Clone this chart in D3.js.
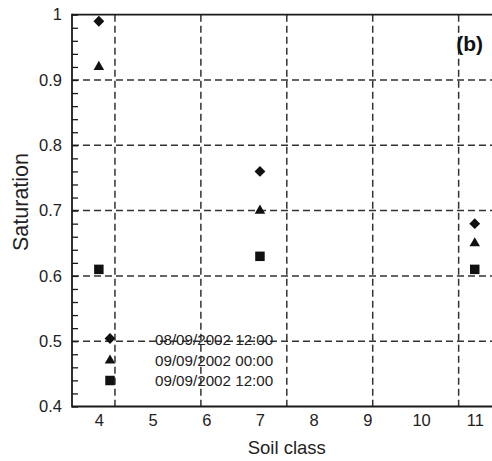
<!DOCTYPE html>
<html>
<head>
<meta charset="utf-8">
<script src="https://cdn.jsdelivr.net/npm/d3@7"></script>
<style>
  html, body { margin: 0; padding: 0; background: #fff; }
  svg { display: block; font-family: "Liberation Sans", Arial, sans-serif; }
</style>
</head>
<body>
<svg id="chart" width="492" height="461"></svg>
<script>
// Soil classes and saturation at three times
const soilClasses = [4, 7, 11];
const sat0812 = [0.99, 0.76, 0.68];   // 08/09/2002 12:00
const sat0900 = [0.92, 0.70, 0.65];   // 09/09/2002 00:00
const sat0912 = [0.61, 0.63, 0.61];   // 09/09/2002 12:00
const seriesNames = ["08/09/2002 12:00", "09/09/2002 00:00", "09/09/2002 12:00"];
const xTickValues = [4, 5, 6, 7, 8, 9, 10, 11];
const yTickValues = [0.4, 0.5, 0.6, 0.7, 0.8, 0.9, 1];
const xGridValues = [4.3, 5.9, 7.5, 9.1, 10.7];
const panelLabel = "(b)";

const svg = d3.select("#chart");
const W = 492, H = 461;
const plotLeft = 72, plotTop = 14.7, plotBottom = 406.5, unit = 53.7;

const x = d3.scaleLinear().domain([3.5, 11.5]).range([plotLeft, plotLeft + 8 * unit]);
const y = d3.scaleLinear().domain([0.4, 1]).range([plotBottom, plotTop]);

const ink = "#1a1a1a";
const gridCol = "#333";
const textCol = "#222";

// dashed grid
const grid = svg.append("g");
grid.selectAll("line.gx").data(xGridValues).join("line")
  .attr("x1", d => x(d)).attr("x2", d => x(d))
  .attr("y1", plotTop).attr("y2", plotBottom)
  .attr("stroke", gridCol).attr("stroke-width", 1.5)
  .attr("stroke-dasharray", "7,4");
grid.selectAll("line.gy").data(yTickValues.filter(v => v > 0.4 && v < 1)).join("line")
  .attr("x1", plotLeft).attr("x2", W)
  .attr("y1", d => y(d)).attr("y2", d => y(d))
  .attr("stroke", gridCol).attr("stroke-width", 1.5)
  .attr("stroke-dasharray", "7,4");

// y axis: minor ticks pointing inward every 0.02
const minor = d3.range(0.4, 1.0001, 0.02);
const yAxis = d3.axisRight(y).tickValues(minor).tickSize(6).tickFormat("");
const gy = svg.append("g").attr("transform", `translate(${plotLeft},0)`).call(yAxis);
gy.select(".domain").remove();
gy.selectAll(".tick line").attr("stroke", ink).attr("stroke-width", 1.3);

// y labels
const yLab = d3.axisLeft(y).tickValues(yTickValues).tickSize(0).tickPadding(10)
  .tickFormat(d => d3.format("")(+d.toFixed(1)));
const gyl = svg.append("g").attr("transform", `translate(${plotLeft},0)`).call(yLab);
gyl.select(".domain").remove();
gyl.selectAll("text").attr("font-size", 16.5).attr("fill", textCol)
  .attr("font-family", "Liberation Sans, Arial, sans-serif");

// x labels
const xAxis = d3.axisBottom(x).tickValues(xTickValues).tickSize(0).tickPadding(8).tickFormat(d3.format("d"));
const gx = svg.append("g").attr("transform", `translate(0,${plotBottom})`).call(xAxis);
gx.select(".domain").remove();
gx.selectAll("text").attr("font-size", 16.5).attr("fill", textCol)
  .attr("font-family", "Liberation Sans, Arial, sans-serif");

// frame lines
svg.append("line").attr("x1", plotLeft).attr("x2", W).attr("y1", plotTop).attr("y2", plotTop)
  .attr("stroke", ink).attr("stroke-width", 1.8);
svg.append("line").attr("x1", plotLeft).attr("x2", W).attr("y1", plotBottom).attr("y2", plotBottom)
  .attr("stroke", ink).attr("stroke-width", 1.8);
svg.append("line").attr("x1", plotLeft).attr("x2", plotLeft).attr("y1", plotTop - 0.9).attr("y2", plotBottom + 0.9)
  .attr("stroke", ink).attr("stroke-width", 1.8);

// markers
const shapes = [
  d3.symbol().type(d3.symbolDiamond2).size(75),
  d3.symbol().type(d3.symbolTriangle).size(48),
  d3.symbol().type(d3.symbolSquare).size(90)
];
const series = [sat0812, sat0900, sat0912];
series.forEach((vals, i) => {
  svg.append("g").selectAll("path").data(vals).join("path")
    .attr("d", shapes[i])
    .attr("transform", (d, j) => `translate(${x(soilClasses[j])},${y(d)})`)
    .attr("fill", "#111");
});

// legend
const legX = 110, legY = [338.5, 360.5, 380.5], legTextX = 155;
const leg = svg.append("g");
seriesNames.forEach((name, i) => {
  leg.append("path").attr("d", shapes[i])
    .attr("transform", `translate(${legX},${legY[i]})`).attr("fill", "#111");
  leg.append("text").attr("x", legTextX).attr("y", legY[i] + 5 + (i === 0 ? 1 : 0))
    .attr("font-size", 15.2).attr("fill", textCol).text(name);
});

// panel label
svg.append("text").attr("x", 483).attr("y", 51).attr("text-anchor", "end")
  .attr("font-size", 21).attr("font-weight", "bold").attr("fill", "#111").text(panelLabel);

// axis titles
svg.append("text").attr("x", x(7.5)).attr("y", 454).attr("text-anchor", "middle")
  .attr("font-size", 18.5).attr("fill", textCol).text("Soil class");
svg.append("text").attr("transform", `translate(28,202) rotate(-90)`)
  .attr("text-anchor", "middle").attr("font-size", 21.5).attr("fill", textCol).text("Saturation");
</script>
</body>
</html>
